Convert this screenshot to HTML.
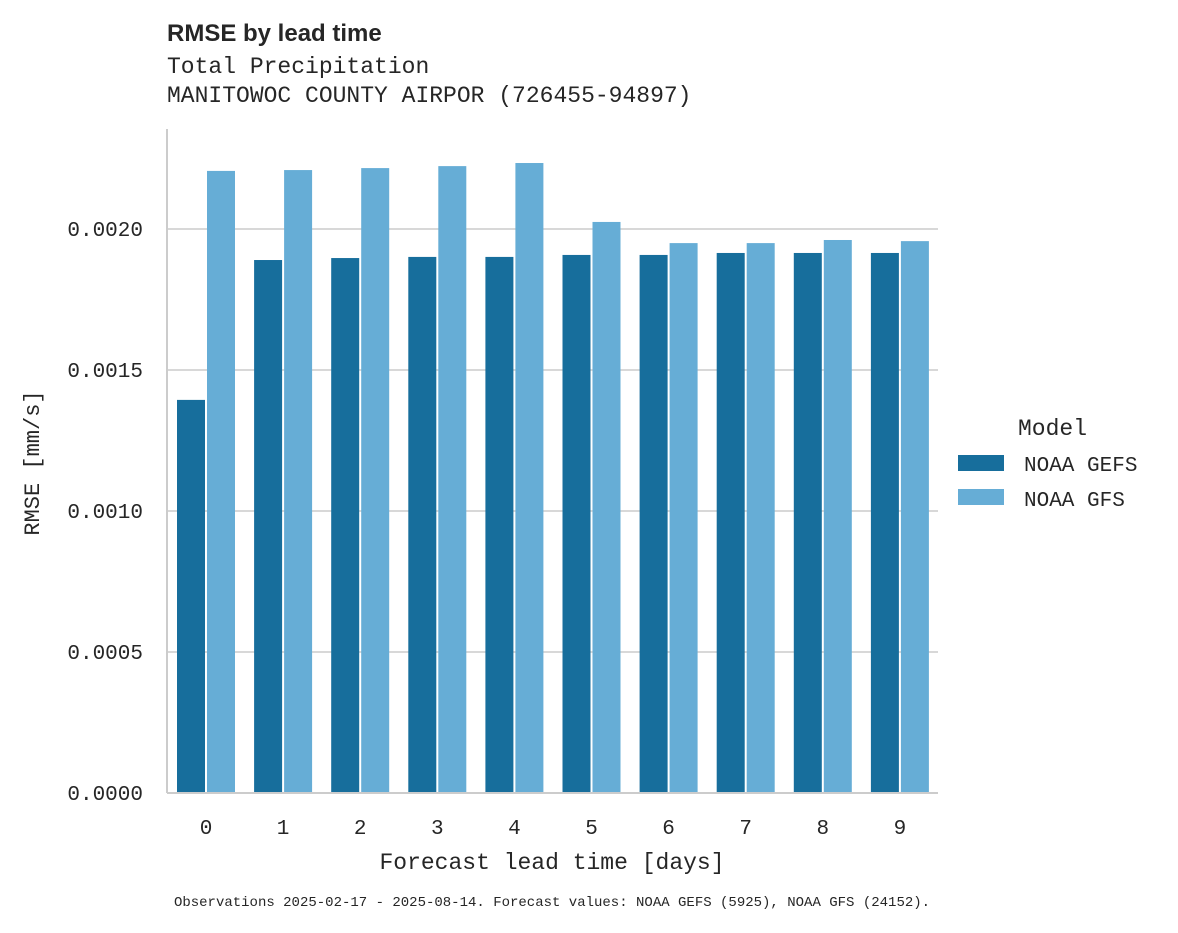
<!DOCTYPE html>
<html><head><meta charset="utf-8">
<style>
html,body{margin:0;padding:0;background:#fff;}
svg text{font-family:"Liberation Mono",monospace;fill:#262626;}
</style></head>
<body>
<svg id="chart" width="1178" height="928" viewBox="0 0 1178 928" xmlns="http://www.w3.org/2000/svg">
<text x="167" y="41" style="font-family:'Liberation Sans',sans-serif;font-weight:bold;font-size:24px">RMSE by lead time</text>
<text x="167" y="73" font-size="23">Total Precipitation</text>
<text x="167" y="102" font-size="23">MANITOWOC COUNTY AIRPOR (726455-94897)</text>
<g id="grid"></g>
<g id="bars"></g>
<line x1="167" y1="129" x2="167" y2="793" stroke="#cccccc" stroke-width="2"/>
<line x1="167" y1="793" x2="938" y2="793" stroke="#cccccc" stroke-width="2"/>
<g id="yticks"></g>
<g id="xticks"></g>
<text x="0" y="0" font-size="22" text-anchor="middle" transform="translate(39,463) rotate(-90)">RMSE [mm/s]</text>
<text x="552" y="869" font-size="23" text-anchor="middle">Forecast lead time [days]</text>
<g>
<text x="1018" y="435" font-size="23">Model</text>
<rect x="958" y="455" width="46" height="16" fill="#176e9c"/>
<text x="1024" y="471" font-size="21">NOAA GEFS</text>
<rect x="958" y="489" width="46" height="16" fill="#66add6"/>
<text x="1024" y="506" font-size="21">NOAA GFS</text>
</g>
<text x="552" y="906" font-size="14" text-anchor="middle">Observations 2025-02-17 - 2025-08-14. Forecast values: NOAA GEFS (5925), NOAA GFS (24152).</text>
</svg>
<script>
const categories = [0,1,2,3,4,5,6,7,8,9];
const gefsValues = [0.001394,0.00189,0.001897,0.001901,0.001901,0.001908,0.001908,0.001915,0.001915,0.001915];
const gfsValues = [0.002206,0.002209,0.002216,0.002223,0.002234,0.002025,0.00195,0.00195,0.001961,0.001957];
const yTickValues = [0,0.0005,0.001,0.0015,0.002];
const yTickLabels = ["0.0000","0.0005","0.0010","0.0015","0.0020"];
const NS="http://www.w3.org/2000/svg";
const y0=793, pxPerUnit=141/0.0005;
function yScale(v){return y0 - v*pxPerUnit;}
const left=167, step=77.1;
function xCenter(i){return left + 39 + i*step;}
const grid=document.getElementById('grid'), yt=document.getElementById('yticks');
yTickValues.forEach((v,i)=>{
  const y=yScale(v);
  if(v>0){
    const l=document.createElementNS(NS,'line');
    l.setAttribute('x1',167);l.setAttribute('x2',938);l.setAttribute('y1',y);l.setAttribute('y2',y);
    l.setAttribute('stroke','#cccccc');l.setAttribute('stroke-width','1.5');
    
    
    grid.appendChild(l);
  }
  const t=document.createElementNS(NS,'text');
  t.setAttribute('x',143);t.setAttribute('y',y+7);t.setAttribute('text-anchor','end');t.setAttribute('font-size','21');
  t.textContent=yTickLabels[i];
  
  
  yt.appendChild(t);
});
const bars=document.getElementById('bars'), xt=document.getElementById('xticks');
categories.forEach((c,i)=>{
  const cx=xCenter(i);
  [[gefsValues[i],'#176e9c',cx-30],[gfsValues[i],'#66add6',cx]].forEach((d,j)=>{
    const r=document.createElementNS(NS,'rect');
    const y=yScale(d[0]);
    r.setAttribute('x',d[2]+1);r.setAttribute('y',y);r.setAttribute('width',28);r.setAttribute('height',y0-y);
    r.setAttribute('fill',d[1]);
    
    
    bars.appendChild(r);
  });
  const t=document.createElementNS(NS,'text');
  t.setAttribute('x',cx);t.setAttribute('y',834);t.setAttribute('text-anchor','middle');t.setAttribute('font-size','21');
  t.textContent=c;
  
  
  xt.appendChild(t);
});
</script>
</body></html>
